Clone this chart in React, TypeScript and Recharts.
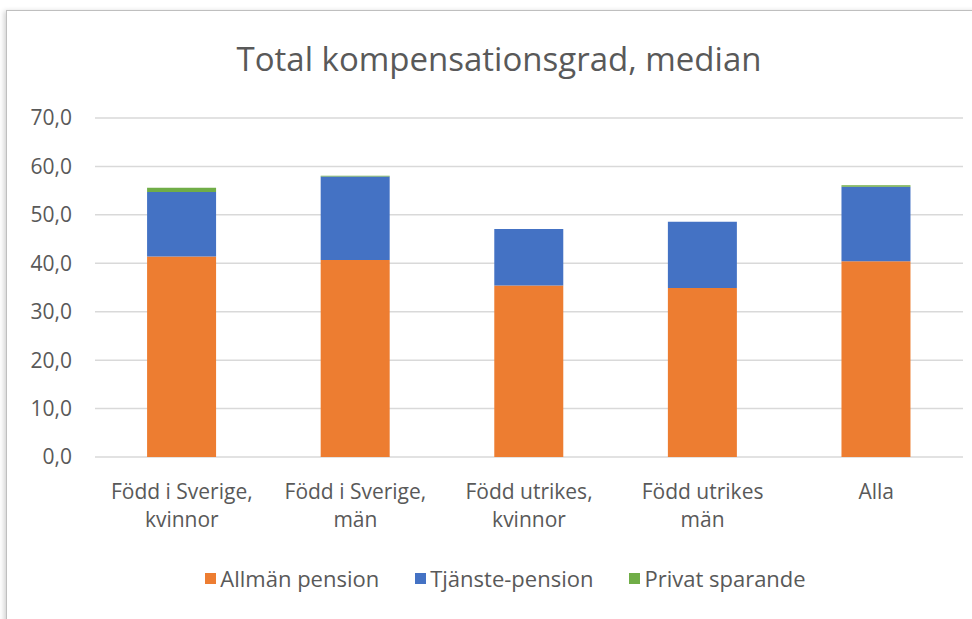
import { BarChart, Bar, XAxis, YAxis, CartesianGrid, Legend } from 'recharts'

const categories = ['Född i Sverige,\nkvinnor', 'Född i Sverige,\nmän', 'Född utrikes,\nkvinnor', 'Född utrikes\nmän', 'Alla']
const allmanPension = [41.4, 40.7, 35.4, 34.9, 40.4]
const tjanstePension = [13.3, 17.2, 11.7, 13.7, 15.4]
const privatSparande = [0.9, 0.2, 0.0, 0.0, 0.3]
const yTicks = [0, 10, 20, 30, 40, 50, 60, 70]

const series = [
  { key: 'allman', name: 'Allmän pension', color: '#ED7D31', values: allmanPension },
  { key: 'tjanste', name: 'Tjänste-pension', color: '#4472C4', values: tjanstePension },
  { key: 'privat', name: 'Privat sparande', color: '#70AD47', values: privatSparande },
]

const data = categories.map((c, i) => {
  const row: Record<string, string | number> = { kategori: c }
  series.forEach((s) => {
    row[s.key] = s.values[i]
  })
  return row
})

const FONT = '"Open Sans", sans-serif'
const TEXT = '#595959'

function CategoryTick({ x, y, payload }: { x?: number; y?: number; payload?: { value: string } }) {
  const lines = String(payload?.value ?? '').split('\n')
  return (
    <text x={x} y={(y ?? 0) + 36} textAnchor="middle" fill={TEXT} fontSize={21} fontFamily={FONT}>
      {lines.map((l, i) => (
        <tspan key={i} x={x} dy={i === 0 ? 0 : 28}>
          {l}
        </tspan>
      ))}
    </text>
  )
}

function LegendContent() {
  return (
    <div style={{ display: 'flex', justifyContent: 'center', gap: 36, fontFamily: FONT, fontSize: 22, color: TEXT }}>
      {series.map((s) => (
        <div key={s.key} style={{ display: 'flex', alignItems: 'center', gap: 4, lineHeight: '30px' }}>
          <span style={{ display: 'inline-block', width: 11, height: 11, background: s.color }} />
          <span>{s.name}</span>
        </div>
      ))}
    </div>
  )
}

export default function App() {
  return (
    <div style={{ position: 'absolute', left: 0, top: 0, width: 972, height: 619, background: '#fff', overflow: 'hidden' }}>
      <div
        style={{
          position: 'absolute',
          left: 6,
          top: 10,
          right: -10,
          bottom: -10,
          border: '1px solid #bfbfbf',
          boxShadow: '-2px 1px 5px rgba(0,0,0,0.18)',
          background: '#fff',
        }}
      />
      <div
        style={{
          position: 'absolute',
          left: 0,
          top: 36,
          width: 998,
          textAlign: 'center',
          fontFamily: FONT,
          fontSize: 33,
          lineHeight: '45px',
          color: TEXT,
        }}
      >
        Total kompensationsgrad, median
      </div>
      <div style={{ position: 'absolute', left: 0, top: 0 }}>
        <BarChart
          width={972}
          height={619}
          data={data}
          margin={{ top: 118, right: 9, left: 0, bottom: 26 }}
          barCategoryGap="30%"
        >
          <CartesianGrid stroke="#d9d9d9" strokeWidth={1.5} vertical={false} />
          <XAxis
            dataKey="kategori"
            axisLine={false}
            tickLine={false}
            tickMargin={0}
            height={106}
            interval={0}
            tick={<CategoryTick />}
          />
          <YAxis
            width={95}
            domain={[0, 70]}
            ticks={yTicks}
            axisLine={false}
            tickLine={false}
            tickMargin={17}
            tickFormatter={(v: number) => v.toFixed(1).replace('.', ',')}
            tick={{ fontSize: 21, fill: TEXT, fontFamily: FONT }}
          />
          <Legend
            verticalAlign="bottom"
            height={30}
            wrapperStyle={{ left: 0, width: 1011 }}
            content={<LegendContent />}
          />
          {series.map((s) => (
            <Bar key={s.key} dataKey={s.key} name={s.name} stackId="a" fill={s.color} isAnimationActive={false} />
          ))}
        </BarChart>
      </div>
    </div>
  )
}
